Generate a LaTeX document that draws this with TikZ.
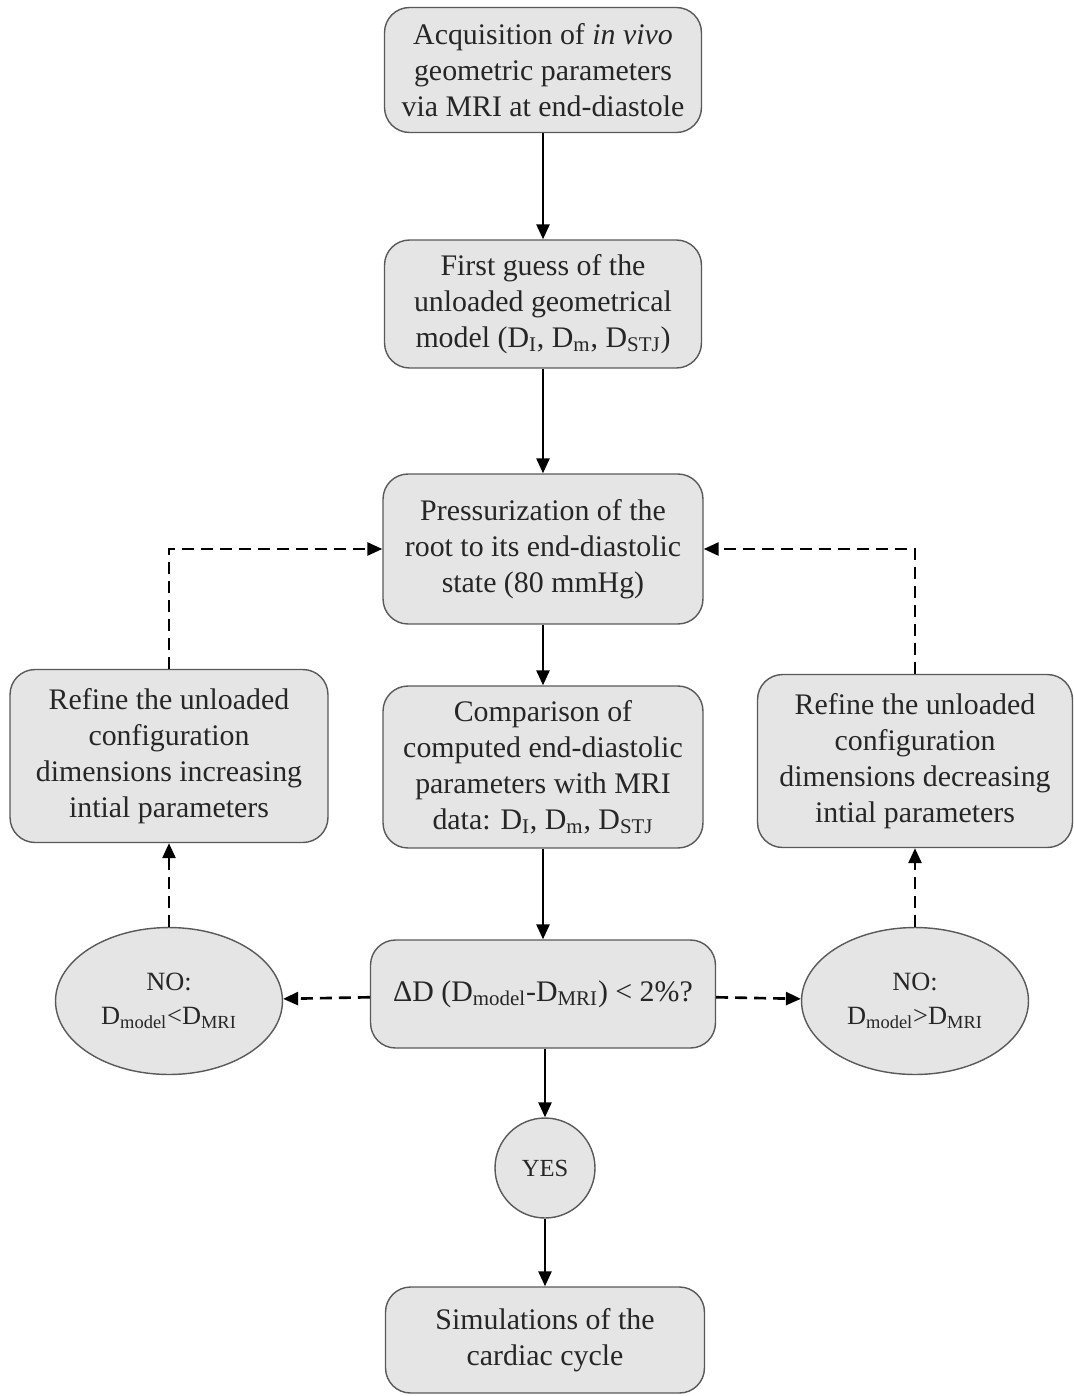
\documentclass[tikz,border=0pt]{standalone}
\usepackage{fontspec}
\setmainfont{Liberation Serif}
\usetikzlibrary{arrows.meta,shapes.geometric,positioning}

\newcommand{\sub}[1]{\textsubscript{#1}}

\begin{document}
\begin{tikzpicture}[x=0.02cm, y=-0.02cm,
  box/.style={draw=black!65, fill=black!10, text=black!85, rounded corners=0.5cm, line width=0.8pt, align=center, font=\fontsize{17}{20.5}\selectfont, inner sep=2pt},
  oval/.style={draw=black!65, fill=black!10, text=black!85, ellipse, line width=0.8pt, align=center, font=\fontsize{15}{19}\selectfont, inner sep=0pt},
  arr/.style={-{Triangle[length=0.3cm, width=0.26cm]}, line width=1.5pt},
  darr/.style={arr, dash pattern=on 0.24cm off 0.14cm}]
\useasboundingbox (0,0) rectangle (1073,1396);

\node[box, minimum width=6.34cm, minimum height=2.5cm] (A) at (543,70) {Acquisition of \textit{in vivo}\\geometric parameters\\via MRI at end-diastole};
\node[box, minimum width=6.34cm, minimum height=2.56cm] (B) at (543,304) {First guess of the\\unloaded geometrical\\model (D\sub{I}, D\sub{m}, D\sub{STJ})};
\node[box, minimum width=6.4cm, minimum height=3.0cm] (C) at (543,549) {Pressurization of the\\root to its end-diastolic\\state (80 mmHg)};
\node[box, minimum width=6.4cm, minimum height=3.24cm] (D) at (543,767) {Comparison of\\computed end-diastolic\\parameters with MRI\\data: D\sub{I}, D\sub{m}, D\sub{STJ}};
\node[box, minimum width=6.9cm, minimum height=2.16cm] (E) at (543,994) {ΔD (D\sub{model}-D\sub{MRI}) < 2\%?};
\node[oval, circle, minimum size=2.0cm, font=\fontsize{14}{17}\selectfont] (Y) at (545,1168) {YES};
\node[box, minimum width=6.38cm, minimum height=2.12cm] (F) at (545,1340) {Simulations of the\\cardiac cycle};

\node[box, minimum width=6.36cm, minimum height=3.46cm] (L) at (169,756) {Refine the unloaded\\configuration\\dimensions increasing\\intial parameters};
\node[box, minimum width=6.3cm, minimum height=3.46cm] (R) at (915,761) {Refine the unloaded\\configuration\\dimensions decreasing\\intial parameters};
\node[oval, minimum width=4.54cm, minimum height=2.94cm] (NL) at (169,1001) {NO:\\D\sub{model}<D\sub{MRI}};
\node[oval, minimum width=4.54cm, minimum height=2.94cm] (NR) at (915,1001) {NO:\\D\sub{model}>D\sub{MRI}};

\draw[arr] (A) -- (B);
\draw[arr] (B) -- (C);
\draw[arr] (C) -- (D);
\draw[arr] (D) -- (E);
\draw[arr] (E.south -| Y) -- (Y);
\draw[arr] (Y) -- (F);
\draw[darr] (E) -- (NL);
\draw[darr] (E) -- (NR);
\draw[darr] (NL) -- (L);
\draw[darr] (NR) -- (R);
\draw[darr] (L) |- (C);
\draw[darr] (R) |- (C);
\end{tikzpicture}
\end{document}
